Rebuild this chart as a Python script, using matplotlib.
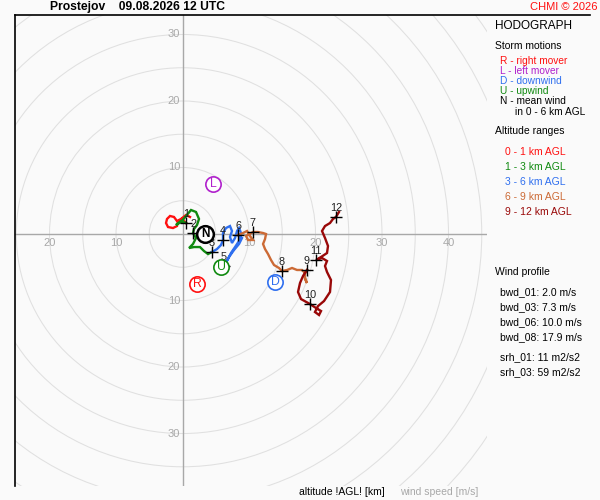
import matplotlib
matplotlib.use("Agg")
import matplotlib.pyplot as plt
from matplotlib.patches import Circle
from matplotlib.lines import Line2D

plt.rcParams['font.family'] = ['Liberation Sans', 'DejaVu Sans']

# ---- data (m/s) ----
u_0_1 = [1.13, 0.53, -0.23, -0.83, -1.28, -1.88, -2.33, -2.48, -2.18, -1.43, -0.83, -0.68, -0.08, 0.53]
v_0_1 = [2.56, 2.86, 2.26, 1.95, 2.56, 2.71, 2.26, 1.65, 1.05, 0.90, 1.20, 1.80, 2.26, 1.65]

u_1_3 = [0.53, -0.23, -0.98, -0.23, 0.53, 1.28, 2.03, 2.48, 2.18, 1.73, 1.58, 2.03, 1.58, 0.98, 1.73, 2.63, 3.23, 3.83, 4.44]
v_1_3 = [1.65, 1.96, 1.35, 1.80, 2.71, 3.61, 3.31, 2.26, 1.35, 0.75, 0.15, -0.60, -1.50, -2.11, -1.96, -1.96, -2.56, -3.01, -2.71]

u_3_6 = [4.44, 5.19, 5.79, 6.09, 6.09, 6.54, 7.14, 7.44, 7.14, 7.44, 7.90, 8.20, 8.50, 8.80, 8.50, 7.90, 7.29, 6.84, 6.24, 6.99, 7.74, 8.50, 8.95, 8.35]
v_3_6 = [-2.71, -2.26, -1.65, -0.90, 0.15, 0.90, 1.20, 0.45, -0.45, -1.35, -0.60, 0.45, 0.90, 0.15, -1.05, -1.96, -2.86, -3.76, -4.81, -3.46, -2.41, -1.50, -0.60, -0.15]

u_6_9 = [8.35, 9.10, 9.70, 10.15, 10.60, 9.85, 9.55, 10.60, 11.35, 12.11, 12.56, 12.41, 12.11, 12.41, 12.86, 13.31, 13.76, 14.51, 14.96, 15.72, 16.47, 17.22, 17.97, 18.42, 18.42, 18.72, 18.27, 18.72]
v_6_9 = [-0.15, 0.15, 0.45, -0.30, -0.90, -0.90, -0.30, 0.30, 0.30, 0.15, 0.00, -0.75, -1.50, -2.26, -3.01, -3.91, -4.66, -5.11, -5.56, -5.41, -5.11, -5.41, -5.41, -5.86, -6.77, -7.37, -6.17, -5.41]

u_9_12 = [18.72, 18.12, 17.67, 17.37, 17.82, 19.17, 20.08, 20.83, 20.53, 19.92, 20.38, 21.28, 22.18, 22.33, 21.73, 21.43, 21.73, 20.98, 20.08, 20.83, 21.73, 21.88, 21.43, 20.98, 21.43, 22.18, 22.63, 23.08, 23.53]
v_9_12 = [-5.41, -6.32, -7.37, -8.72, -9.78, -10.53, -11.13, -11.58, -12.18, -11.73, -10.83, -10.08, -8.72, -6.92, -5.71, -4.81, -4.06, -3.61, -3.91, -3.46, -2.86, -1.80, -0.60, 0.45, 1.20, 1.65, 2.26, 2.56, 3.31]

# km levels
km_labels = ['1', '2', '3', '4', '5', '6', '7', '8', '9', '10', '11', '12']
km_u = [0.53, 1.58, 4.44, 6.09, 6.24, 8.35, 10.60, 14.96, 18.72, 19.17, 20.08, 23.08]
km_v = [1.65, 0.15, -2.71, -0.90, -4.81, -0.15, 0.30, -5.56, -5.41, -10.53, -3.91, 2.56]

# storm motions
sm_letters = ['R', 'L', 'D', 'U', 'N']
sm_u = [2.18, 4.59, 13.91, 5.79, 3.38]
sm_v = [-7.52, 7.52, -7.22, -4.96, 0.00]

ring_speeds = [5, 10, 15, 20, 25, 30, 35, 40, 45, 50, 55, 60]
tick_left = [-20, -10]
tick_right = [10, 20, 30, 40]
tick_up = [10, 20, 30]
tick_down = [-10, -20, -30]

range_labels = ['0 - 1 km AGL', '1 - 3 km AGL', '3 - 6 km AGL', '6 - 9 km AGL', '9 - 12 km AGL']
wind_profile = ['bwd_01: 2.0 m/s', 'bwd_03: 7.3 m/s', 'bwd_06: 10.0 m/s', 'bwd_08: 17.9 m/s']
srh_profile = ['srh_01: 11 m2/s2', 'srh_03: 59 m2/s2']

# ---- styles ----
BG = '#fafafa'
C_RED = '#ff1010'
C_GREEN = '#108a10'
C_BLUE = '#2f6fef'
C_ORANGE = '#cc6a35'
C_DRED = '#990808'
C_PURPLE = '#b020cc'
RING = '#e0e0e0'
AXC = '#a8a8a8'

W, H = 600, 500
fig = plt.figure(figsize=(6, 5), dpi=100, facecolor=BG)

def fx(px):
    return px / W

def fy(py):
    return 1 - py / H

ax = fig.add_axes([fx(15), fy(486), fx(487) - fx(15), fy(15) - fy(486)])
ax.set_facecolor(BG)
ax.set_xlim(-25.19, 45.79)
ax.set_ylim(-37.89, 32.93)
ax.set_xticks([])
ax.set_yticks([])
for s in ['right', 'bottom', 'top']:
    ax.spines[s].set_visible(False)
ax.spines['left'].set_color('black')
ax.spines['left'].set_linewidth(1.2)

for r in ring_speeds:
    ax.add_patch(Circle((0, 0), r, fill=False, ec=RING, lw=0.75, zorder=1))
ax.axhline(0, color=AXC, lw=1.0, zorder=1.5)
ax.axvline(0, color=AXC, lw=1.0, zorder=1.5)

lab_kw = dict(color='#a8a8a8', fontsize=8, zorder=2)
for t in tick_left + tick_right:
    ax.text(t, -0.55, str(abs(t)), ha='center', va='top', **lab_kw)
for t in tick_up + tick_down:
    ax.text(-0.35, t, str(abs(t)), ha='right', va='center', **lab_kw)

lw = 1.7
ax.plot(u_0_1, v_0_1, color=C_RED, lw=lw, zorder=3, solid_joinstyle='miter')
ax.plot(u_1_3, v_1_3, color=C_GREEN, lw=lw, zorder=3, solid_joinstyle='miter')
ax.plot(u_3_6, v_3_6, color=C_BLUE, lw=lw, zorder=3, solid_joinstyle='miter')
ax.plot(u_6_9, v_6_9, color=C_ORANGE, lw=lw, zorder=3, solid_joinstyle='miter')
ax.plot(u_9_12, v_9_12, color=C_DRED, lw=lw, zorder=3, solid_joinstyle='miter')

ax.plot(km_u, km_v, ls='none', marker='+', ms=9, mew=1.0, color='black', zorder=4)
for lab, uu, vv in zip(km_labels, km_u, km_v):
    ax.annotate(lab, (uu, vv), xytext=(0, 6.5), textcoords='offset points',
                ha='center', va='center', fontsize=7.8, color='#202020', zorder=5)

sm_colors = {'R': C_RED, 'L': C_PURPLE, 'D': C_BLUE, 'U': C_GREEN, 'N': 'black'}
for let, uu, vv in zip(sm_letters, sm_u, sm_v):
    c = sm_colors[let]
    if let == 'N':
        ax.plot(uu, vv, marker='o', ms=12, mfc='white', mec='black', mew=1.8, zorder=6)
        ax.text(uu, vv - 0.05, let, ha='center', va='center', fontsize=8.5, color='black',
                fontweight='bold', zorder=7)
    else:
        ax.plot(uu, vv, marker='o', ms=11, mfc='white', mec=c, mew=1.2, zorder=6)
        ax.text(uu, vv - 0.05, let, ha='center', va='center', fontsize=8.8, color=c, zorder=7)

# top frame line across full width
fig.add_artist(Line2D([fx(15), fx(590)], [fy(15), fy(15)], color='black', lw=1.2))

# texts
fig.text(fx(50), fy(7), 'Prostejov    09.08.2026 12 UTC', fontsize=8.7, fontweight='bold',
         ha='left', va='center')
fig.text(fx(597), fy(7), 'CHMI © 2026', fontsize=8, color=C_RED, ha='right', va='center')
fig.text(fx(495), fy(26), 'HODOGRAPH', fontsize=8.5, ha='left', va='center')
fig.text(fx(495), fy(46), 'Storm motions', fontsize=7.5, ha='left', va='center')
sm_leg = [('R - right mover', C_RED), ('L - left mover', C_PURPLE), ('D - downwind', C_BLUE),
          ('U - upwind', C_GREEN), ('N - mean wind', 'black')]
for i, (t, c) in enumerate(sm_leg):
    fig.text(fx(500), fy(61 + 10 * i), t, fontsize=7.3, color=c, ha='left', va='center')
fig.text(fx(515), fy(112), 'in 0 - 6 km AGL', fontsize=7.3, ha='left', va='center')
fig.text(fx(495), fy(131), 'Altitude ranges', fontsize=7.5, ha='left', va='center')
for i, (t, c) in enumerate(zip(range_labels, [C_RED, C_GREEN, C_BLUE, C_ORANGE, C_DRED])):
    fig.text(fx(505), fy(152 + 15 * i), t, fontsize=7.5, color=c, ha='left', va='center')
fig.text(fx(495), fy(272), 'Wind profile', fontsize=7.5, ha='left', va='center')
for i, t in enumerate(wind_profile):
    fig.text(fx(500), fy(292 + 15 * i), t, fontsize=7.5, ha='left', va='center')
for i, t in enumerate(srh_profile):
    fig.text(fx(500), fy(357 + 15 * i), t, fontsize=7.5, ha='left', va='center')
fig.text(fx(385), fy(492), 'altitude !AGL! [km]', fontsize=7.5, ha='right', va='center')
fig.text(fx(400), fy(492), 'wind speed [m/s]', fontsize=7.5, color='#a8a8a8', ha='left', va='center')

fig.savefig('out.png', dpi=100, facecolor=BG)
